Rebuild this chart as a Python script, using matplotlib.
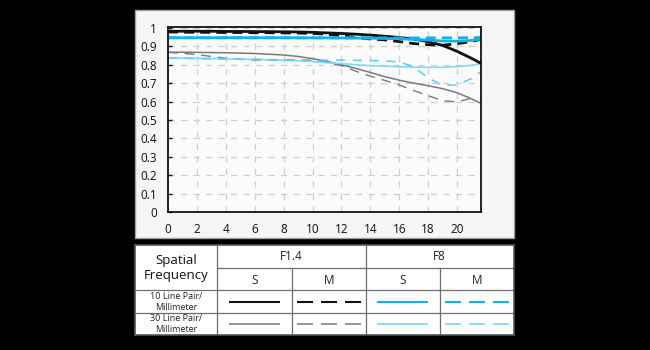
"""MTF chart for a lens at F1.4 and F8, with a style key table underneath."""

import matplotlib.pyplot as plt
from matplotlib.patches import Rectangle

plt.rcParams['font.family'] = ['Open Sans', 'DejaVu Sans']

# distance from image centre (mm)
image_height = [0, 1, 2, 3, 4, 5, 6, 7, 8, 9, 10, 11, 12, 13, 14, 15, 16, 17, 18, 19, 20, 21, 21.65]
image_height_m30 = [0, 1, 2, 3, 4, 5, 6, 7, 8, 9, 10, 11, 12, 13, 14, 15, 16, 17, 18, 19, 20, 21, 21.3]

# 10 lp/mm
f14_s10 = [.982, .982, .982, .982, .981, .981, .980, .980, .979, .978, .976, .973, .970, .966, .961, .955,
           .948, .940, .925, .905, .873, .835, .808]
f14_m10 = [.978, .977, .976, .976, .975, .975, .974, .974, .973, .972, .970, .966, .958, .948, .940, .935,
           .926, .915, .909, .906, .914, .926, .938]
f8_s10 = [.947, .947, .947, .947, .947, .947, .947, .947, .947, .946, .946, .946, .945, .945, .944, .943,
          .941, .938, .934, .929, .928, .932, .940]
f8_m10 = [.946, .946, .946, .946, .946, .946, .946, .946, .946, .946, .946, .946, .946, .946, .946, .946,
          .946, .946, .946, .946, .946, .947, .948]

# 30 lp/mm
f14_s30 = [.868, .868, .867, .866, .865, .863, .861, .857, .853, .845, .833, .818, .800, .780, .758, .735,
           .716, .700, .686, .670, .648, .615, .590]
f14_m30 = [.867, .862, .855, .845, .835, .830, .826, .825, .825, .824, .822, .812, .795, .765, .738, .715,
           .690, .660, .632, .605, .598, .618, .632]
f8_s30 = [.837, .836, .835, .834, .832, .830, .829, .827, .824, .821, .817, .811, .806, .800, .795, .792,
          .789, .787, .786, .786, .790, .797, .806]
f8_m30 = [.837, .836, .833, .832, .831, .830, .829, .828, .827, .827, .826, .825, .825, .824, .823, .821,
          .815, .790, .728, .688, .690, .725, .762]

x_ticks = [0, 2, 4, 6, 8, 10, 12, 14, 16, 18, 20]
y_ticks = [0, 0.1, 0.2, 0.3, 0.4, 0.5, 0.6, 0.7, 0.8, 0.9, 1]
y_tick_labels = ['0', '0.1', '0.2', '0.3', '0.4', '0.5', '0.6', '0.7', '0.8', '0.9', '1']

apertures = ['F1.4', 'F8']
directions = ['S', 'M']
frequencies = ['10 Line Pair/\nMillimeter', '30 Line Pair/\nMillimeter']

BLACK = '#111111'
GREY = '#7a7a7a'
BLUE = '#13b1ea'
LIGHT_BLUE = '#80daf6'

W, H = 650, 350


def fig_box(left, top, right, bottom):
    return [left / W, 1 - bottom / H, (right - left) / W, (bottom - top) / H]


fig = plt.figure(figsize=(W / 100, H / 100), dpi=100, facecolor='black')

# light panel behind the chart
box = fig_box(135, 10, 514, 238)
fig.patches.append(Rectangle((box[0], box[1]), box[2], box[3], transform=fig.transFigure,
                             facecolor='#f6f6f6', edgecolor='#a0a0a0', linewidth=1.0, zorder=-1))

ax = fig.add_axes(fig_box(168, 27, 481, 212))
ax.set_facecolor('#fbfbfb')

ax.plot(image_height, f14_s30, color=GREY, lw=1.1)
ax.plot(image_height_m30, f14_m30, color=GREY, lw=1.0, linestyle=(0, (7, 5)))
ax.plot(image_height, f8_s30, color=LIGHT_BLUE, lw=1.2)
ax.plot(image_height, f8_m30, color='#5cccf2', lw=1.1, linestyle=(0, (6, 5)))
ax.plot(image_height, f14_s10, color=BLACK, lw=2.0)
ax.plot(image_height, f14_m10, color=BLACK, lw=2.0, linestyle=(0, (3.6, 2.2)))
ax.plot(image_height, f8_s10, color=BLUE, lw=2.0)
ax.plot(image_height, f8_m10, color=BLUE, lw=2.0, linestyle=(0, (3.6, 2.2)))

ax.set_xlim(0, 21.66)
ax.set_ylim(0, 1.005)
ax.set_xticks(x_ticks)
ax.set_yticks(y_ticks)
ax.set_yticklabels(y_tick_labels)
ax.grid(True, color='#cfcfcf', linestyle=(0, (5, 5)), linewidth=0.9)
ax.set_axisbelow(True)
ax.tick_params(axis='y', direction='in', length=3, width=1.0, pad=8, labelsize=8.5, colors='#111111')
ax.tick_params(axis='x', length=0, pad=8, labelsize=8.5, colors='#111111')
for spine in ax.spines.values():
    spine.set_color('#111111')
    spine.set_linewidth(1.3)

# key table, drawn in pixel units
tab = fig.add_axes(fig_box(135, 245, 514, 335))
tab.set_xlim(135, 514)
tab.set_ylim(335, 245)
tab.set_facecolor('white')
tab.set_xticks([])
tab.set_yticks([])
for spine in tab.spines.values():
    spine.set_color('#555555')
    spine.set_linewidth(1.2)

line_kw = dict(color='#6e6e6e', linewidth=0.9)
tab.hlines(268, 217, 514, **line_kw)
tab.hlines([290, 313], 135, 514, **line_kw)
tab.vlines([217, 366], 245, 335, **line_kw)
tab.vlines([292, 440], 268, 335, **line_kw)

tab.text(176, 268, 'Spatial\nFrequency', ha='center', va='center', fontsize=9.5,
         linespacing=1.25, color='#111111')
for i, ap in enumerate(apertures):
    tab.text(217 + 74 * (2 * i + 1), 257, ap, ha='center', va='center', fontsize=8.5, color='#222222')
    for j, d in enumerate(directions):
        tab.text(255 + 148 * i + 74 * j, 280, d, ha='center', va='center', fontsize=8.5, color='#222222')
for k, label in enumerate(frequencies):
    tab.text(176, 302 + 22 * k, label, ha='center', va='center', fontsize=6.5,
             linespacing=1.15, color='#222222')

key_colors = [[BLACK, '#8a8a8a'], [BLUE, LIGHT_BLUE]]
key_widths = [1.5, 1.3]
for i in range(2):
    for k in range(2):
        y = 302 + 22 * k
        c = key_colors[i][k]
        x0 = 218 + 148 * i
        tab.hlines(y, x0 + 11, x0 + 62, color=c, linewidth=key_widths[k])
        for n in range(3):
            s = x0 + 79 + 24 * n
            tab.hlines(y, s, s + 16, color=c, linewidth=key_widths[k])

fig.savefig('out.png', dpi=100, facecolor='black')
